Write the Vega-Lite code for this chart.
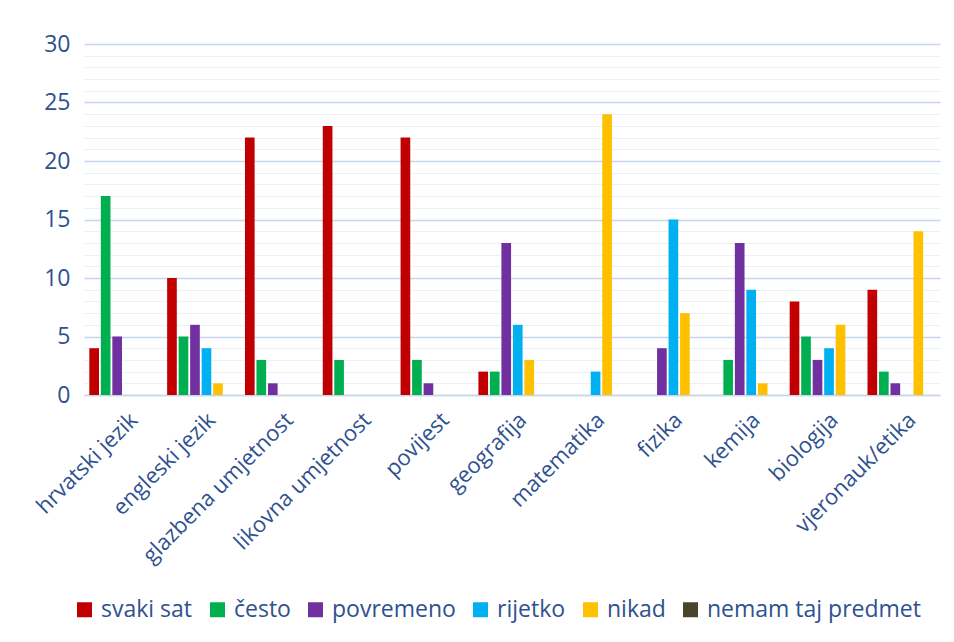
{
  "$schema": "https://vega.github.io/schema/vega-lite/v6.json",
  "autosize": {"type": "none"},
  "width": 856,
  "height": 351,
  "padding": {"left": 84, "top": 44, "right": 14, "bottom": 247},
  "background": "white",
  "data": {
    "values": [
      {"predmet": "hrvatski jezik", "odgovor": "svaki sat", "broj": 4},
      {"predmet": "hrvatski jezik", "odgovor": "često", "broj": 17},
      {"predmet": "hrvatski jezik", "odgovor": "povremeno", "broj": 5},
      {"predmet": "engleski jezik", "odgovor": "svaki sat", "broj": 10},
      {"predmet": "engleski jezik", "odgovor": "često", "broj": 5},
      {"predmet": "engleski jezik", "odgovor": "povremeno", "broj": 6},
      {"predmet": "engleski jezik", "odgovor": "rijetko", "broj": 4},
      {"predmet": "engleski jezik", "odgovor": "nikad", "broj": 1},
      {"predmet": "glazbena umjetnost", "odgovor": "svaki sat", "broj": 22},
      {"predmet": "glazbena umjetnost", "odgovor": "često", "broj": 3},
      {"predmet": "glazbena umjetnost", "odgovor": "povremeno", "broj": 1},
      {"predmet": "likovna umjetnost", "odgovor": "svaki sat", "broj": 23},
      {"predmet": "likovna umjetnost", "odgovor": "često", "broj": 3},
      {"predmet": "povijest", "odgovor": "svaki sat", "broj": 22},
      {"predmet": "povijest", "odgovor": "često", "broj": 3},
      {"predmet": "povijest", "odgovor": "povremeno", "broj": 1},
      {"predmet": "geografija", "odgovor": "svaki sat", "broj": 2},
      {"predmet": "geografija", "odgovor": "često", "broj": 2},
      {"predmet": "geografija", "odgovor": "povremeno", "broj": 13},
      {"predmet": "geografija", "odgovor": "rijetko", "broj": 6},
      {"predmet": "geografija", "odgovor": "nikad", "broj": 3},
      {"predmet": "matematika", "odgovor": "rijetko", "broj": 2},
      {"predmet": "matematika", "odgovor": "nikad", "broj": 24},
      {"predmet": "fizika", "odgovor": "povremeno", "broj": 4},
      {"predmet": "fizika", "odgovor": "rijetko", "broj": 15},
      {"predmet": "fizika", "odgovor": "nikad", "broj": 7},
      {"predmet": "kemija", "odgovor": "često", "broj": 3},
      {"predmet": "kemija", "odgovor": "povremeno", "broj": 13},
      {"predmet": "kemija", "odgovor": "rijetko", "broj": 9},
      {"predmet": "kemija", "odgovor": "nikad", "broj": 1},
      {"predmet": "biologija", "odgovor": "svaki sat", "broj": 8},
      {"predmet": "biologija", "odgovor": "često", "broj": 5},
      {"predmet": "biologija", "odgovor": "povremeno", "broj": 3},
      {"predmet": "biologija", "odgovor": "rijetko", "broj": 4},
      {"predmet": "biologija", "odgovor": "nikad", "broj": 6},
      {"predmet": "vjeronauk/etika", "odgovor": "svaki sat", "broj": 9},
      {"predmet": "vjeronauk/etika", "odgovor": "često", "broj": 2},
      {"predmet": "vjeronauk/etika", "odgovor": "povremeno", "broj": 1},
      {"predmet": "vjeronauk/etika", "odgovor": "nikad", "broj": 14}
    ]
  },
  "mark": {"type": "bar"},
  "encoding": {
    "x": {
      "field": "predmet",
      "type": "nominal",
      "sort": ["hrvatski jezik", "engleski jezik", "glazbena umjetnost", "likovna umjetnost", "povijest", "geografija", "matematika", "fizika", "kemija", "biologija", "vjeronauk/etika"],
      "scale": {"paddingInner": 0.113, "paddingOuter": 0.0565},
      "axis": {
        "title": null,
        "labelAngle": -45,
        "labelFont": "Open Sans",
        "labelFontSize": 22,
        "labelColor": "#2F5190",
        "labelPadding": 14,
        "labelOffset": 4,
        "ticks": false,
        "domainColor": "#C9D6E8",
        "domainWidth": 1.5,
        "grid": false,
        "labelLimit": 400
      }
    },
    "xOffset": {
      "field": "odgovor",
      "type": "nominal",
      "scale": {
        "domain": ["svaki sat", "često", "povremeno", "rijetko", "nikad", "nemam taj predmet"],
        "paddingInner": 0.16,
        "paddingOuter": 0.08
      }
    },
    "y": {
      "field": "broj",
      "type": "quantitative",
      "scale": {"domain": [0, 30], "nice": false},
      "axis": {
        "title": null,
        "values": [0,1,2,3,4,5,6,7,8,9,10,11,12,13,14,15,16,17,18,19,20,21,22,23,24,25,26,27,28,29,30],
        "labelExpr": "datum.value % 5 === 0 ? datum.label : ''",
        "labelFont": "Open Sans",
        "labelFontSize": 23,
        "labelColor": "#2F5190",
        "labelPadding": 14,
        "ticks": false,
        "domain": false,
        "grid": true,
        "gridColor": {"condition": {"test": "datum.value % 5 === 0", "value": "#C6D7ED"}, "value": "#EBF1F9"},
        "gridWidth": {"condition": {"test": "datum.value % 5 === 0", "value": 1.5}, "value": 1.2}
      }
    },
    "color": {
      "field": "odgovor",
      "type": "nominal",
      "scale": {
        "domain": ["svaki sat", "često", "povremeno", "rijetko", "nikad", "nemam taj predmet"],
        "range": ["#C00000", "#00B050", "#7030A0", "#00B0F0", "#FFC000", "#4A4429"]
      },
      "legend": {
        "title": null,
        "orient": "none",
        "direction": "horizontal",
        "legendX": -11,
        "legendY": 554,
        "symbolType": "square",
        "symbolSize": 225,
        "symbolStrokeWidth": 0,
        "symbolOpacity": 1,
        "labelFont": "Open Sans",
        "labelFontSize": 23,
        "labelColor": "#2F5190",
        "labelOffset": 5,
        "columnPadding": 13,
        "padding": 0,
        "labelLimit": 400
      }
    }
  },
  "config": {
    "view": {"stroke": null}
  }
}
